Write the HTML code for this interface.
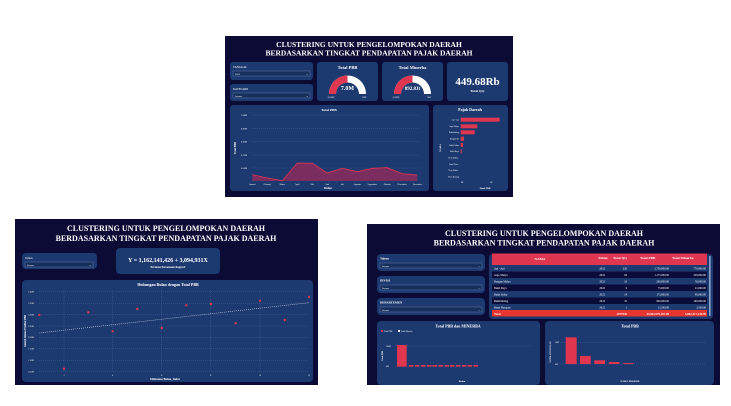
<!DOCTYPE html>
<html><head><meta charset="utf-8"><style>
html,body{margin:0;padding:0;background:#fff;width:731px;height:406px;overflow:hidden}
svg{display:block}
text{font-family:"Liberation Serif",serif;fill:#fff}
</style></head><body>
<svg width="731" height="406" viewBox="0 0 731 406" xmlns="http://www.w3.org/2000/svg">
<!-- PANEL 1 -->
<rect x="225" y="36" width="288" height="161" fill="#0b0b35"/>
<text x="369" y="47" font-size="7.5" font-weight="bold" text-anchor="middle">CLUSTERING UNTUK PENGELOMPOKAN DAERAH</text>
<text x="369" y="55.5" font-size="7.5" font-weight="bold" text-anchor="middle">BERDASARKAN TINGKAT PENDAPATAN PAJAK DAERAH</text>
<rect x="230" y="62" width="83" height="18" rx="3" fill="#1d3a70"/>
<text x="233" y="68" font-size="3">TANGGAL</text>
<rect x="233" y="71" width="77" height="5" fill="#16305e" stroke="#6d86b8" stroke-width="0.4"/>
<text x="235" y="75" font-size="2.5">2022</text><text x="306" y="75" font-size="3">⌄</text>
<rect x="230" y="84" width="83" height="17" rx="3" fill="#1d3a70"/>
<text x="233" y="90" font-size="3">KATEGORI</text>
<rect x="233" y="93" width="77" height="5" fill="#16305e" stroke="#6d86b8" stroke-width="0.4"/>
<text x="235" y="97" font-size="2.5">Semua</text><text x="306" y="97" font-size="3">⌄</text>
<rect x="317" y="62" width="61" height="39" rx="3" fill="#1d3a70"/>
<text x="347.5" y="69" font-size="4.5" font-weight="bold" text-anchor="middle">Total PBB</text>
<path d="M329,94 A18.5,18.5 0 0 1 366,94 L359,94 A11.5,11.5 0 0 0 336,94 Z" fill="#ffffff"/>
<path d="M329,94 A18.5,18.5 0 0 1 347.5,75.5 L347.5,82.5 A11.5,11.5 0 0 0 336,94 Z" fill="#e0364f"/>
<text x="347.5" y="90" font-size="6" font-weight="bold" text-anchor="middle">7.0M</text>
<text x="331" y="98" font-size="2.5" text-anchor="middle">0.00M</text><text x="364" y="98" font-size="2.5" text-anchor="middle">15M</text>
<rect x="382" y="62" width="61" height="39" rx="3" fill="#1d3a70"/>
<text x="412.5" y="69" font-size="4.5" font-weight="bold" text-anchor="middle">Total Minerba</text>
<path d="M394,94 A18.5,18.5 0 0 1 431,94 L424,94 A11.5,11.5 0 0 0 401,94 Z" fill="#ffffff"/>
<path d="M394,94 A18.5,18.5 0 0 1 412.5,75.5 L412.5,82.5 A11.5,11.5 0 0 0 401,94 Z" fill="#e0364f"/>
<text x="412.5" y="90" font-size="5" font-weight="bold" text-anchor="middle">892.8Jt</text>
<text x="396" y="98" font-size="2.5" text-anchor="middle">0.00M</text><text x="429" y="98" font-size="2.5" text-anchor="middle">2M</text>
<rect x="447" y="62" width="61" height="39" rx="3" fill="#1d3a70"/>
<text x="477.5" y="85" font-size="11" font-weight="bold" text-anchor="middle">449.68Rb</text>
<text x="477.5" y="92" font-size="3.5" font-weight="bold" text-anchor="middle">Total Qty</text>
<rect x="230" y="105" width="199" height="86" rx="3" fill="#1d3a70"/>
<text x="329" y="111" font-size="3.5" font-weight="bold" text-anchor="middle">Total PBB</text>
<g stroke="#5d7ab0" stroke-width="0.3" stroke-dasharray="1,1"><line x1="251" y1="115" x2="421" y2="115"/><line x1="251" y1="128.5" x2="421" y2="128.5"/><line x1="251" y1="141.6" x2="421" y2="141.6"/><line x1="251" y1="155" x2="421" y2="155"/><line x1="251" y1="168" x2="421" y2="168"/></g>
<g font-size="2.3"><text x="241" y="116">1.00M</text><text x="241" y="129.5">0.95M</text><text x="241" y="142.6">0.85M</text><text x="241" y="156">0.75M</text><text x="241" y="169">0.65M</text></g>
<text x="236" y="148" font-size="2.8" font-weight="bold" transform="rotate(-90 236 148)" text-anchor="middle">Total PBB</text>
<polygon points="252.3,181 252.3,174.7 267.3,178 282.3,180.7 297.3,163 312.3,163.3 327.3,173 342.3,168.3 357.3,171.7 372.3,168.3 387.3,167.7 402.3,173.7 417.3,175 417.3,181" fill="#7a2d5e"/>
<polyline points="252.3,174.7 267.3,178 282.3,180.7 297.3,163 312.3,163.3 327.3,173 342.3,168.3 357.3,171.7 372.3,168.3 387.3,167.7 402.3,173.7 417.3,175" fill="none" stroke="#e0364f" stroke-width="0.8"/>
<g font-size="2.2" text-anchor="middle"><text x="252.3" y="185">Januari</text><text x="267.3" y="185">Februari</text><text x="282.3" y="185">Maret</text><text x="297.3" y="185">April</text><text x="312.3" y="185">Mei</text><text x="327.3" y="185">Juni</text><text x="342.3" y="185">Juli</text><text x="357.3" y="185">Agustus</text><text x="372.3" y="185">September</text><text x="387.3" y="185">Oktober</text><text x="402.3" y="185">November</text><text x="417.3" y="185">Desember</text></g>
<text x="328" y="189" font-size="3" font-weight="bold" text-anchor="middle">Bulan</text>
<rect x="433" y="105" width="75" height="86" rx="3" fill="#1d3a70"/>
<text x="470" y="111" font-size="4" font-weight="bold" text-anchor="middle">Pajak Daerah</text>
<g fill="#e0364f"><rect x="460.7" y="117.7" width="39" height="4"/><rect x="460.7" y="124.3" width="16.6" height="4"/><rect x="460.7" y="130.3" width="14" height="4"/><rect x="460.7" y="136.7" width="3.3" height="4"/><rect x="460.7" y="143" width="2.3" height="4"/><rect x="460.7" y="149.3" width="1" height="4"/></g>
<g font-size="2" text-anchor="end"><text x="459" y="120.5">Api - Api</text><text x="459" y="127">Argo Mulyo</text><text x="459" y="133">Bukitmining</text><text x="459" y="139.5">Bangun M.</text><text x="459" y="146">Bukit Sultar</text><text x="459" y="152">Bukit Raya</text><text x="459" y="158.5">Desa Bukit...</text><text x="459" y="165">Bumi Tara...</text><text x="459" y="171">Desa Bukit...</text><text x="459" y="177.5">Desa Benung</text></g>
<text x="441" y="148" font-size="2.5" font-weight="bold" transform="rotate(-90 441 148)" text-anchor="middle">NAMA</text>
<text x="461" y="183" font-size="2">0K</text><text x="490" y="183" font-size="2">5K</text>
<text x="485" y="189" font-size="2.5" font-weight="bold" text-anchor="middle">Total PBB</text>
<!-- PANEL 2 -->
<rect x="15" y="219" width="303" height="166" fill="#0b0b35"/>
<text x="166" y="231" font-size="8" font-weight="bold" text-anchor="middle">CLUSTERING UNTUK PENGELOMPOKAN DAERAH</text>
<text x="166" y="241" font-size="8" font-weight="bold" text-anchor="middle">BERDASARKAN TINGKAT PENDAPATAN PAJAK DAERAH</text>
<rect x="22" y="253" width="75" height="16" rx="4" fill="#1d3a70"/>
<text x="25" y="259" font-size="3">Tahun</text>
<rect x="25" y="262" width="68" height="5" fill="#16305e" stroke="#6d86b8" stroke-width="0.4"/>
<text x="27" y="266" font-size="2.5">Semua</text><text x="89" y="266" font-size="3">⌄</text>
<rect x="116" y="248" width="104" height="26" rx="4" fill="#1d3a70"/>
<text x="168" y="262" font-size="6" font-weight="bold" text-anchor="middle">Y = 1,162,141,426 + 3,094,931X</text>
<text x="168" y="268" font-size="2.8" font-weight="bold" text-anchor="middle">Pertama Persamaan Regresi!</text>
<rect x="22" y="280" width="291" height="102" rx="4" fill="#1d3a70"/>
<text x="168" y="286" font-size="4" font-weight="bold" text-anchor="middle">Hubungan Bulan dengan Total PBB</text>
<g stroke="#5d7ab0" stroke-width="0.3" stroke-dasharray="1,1"><line x1="39" y1="291.7" x2="309" y2="291.7"/><line x1="39" y1="303.3" x2="309" y2="303.3"/><line x1="39" y1="314.7" x2="309" y2="314.7"/><line x1="39" y1="326" x2="309" y2="326"/><line x1="39" y1="337.3" x2="309" y2="337.3"/><line x1="39" y1="348.7" x2="309" y2="348.7"/><line x1="39" y1="360.3" x2="309" y2="360.3"/><line x1="39" y1="371.7" x2="309" y2="371.7"/><line x1="64" y1="290" x2="64" y2="372"/><line x1="112.7" y1="290" x2="112.7" y2="372"/><line x1="161.7" y1="290" x2="161.7" y2="372"/><line x1="210.7" y1="290" x2="210.7" y2="372"/><line x1="260" y1="290" x2="260" y2="372"/></g>
<g font-size="2.2"><text x="28" y="292.5">1.40M</text><text x="28" y="304">1.35M</text><text x="28" y="315.5">1.30M</text><text x="28" y="327">1.25M</text><text x="28" y="338">1.20M</text><text x="28" y="349.5">1.15M</text><text x="28" y="361">1.10M</text><text x="28" y="372.5">1.05M</text></g>
<g font-size="2.2" text-anchor="middle"><text x="64" y="376">2</text><text x="112.7" y="376">4</text><text x="161.7" y="376">6</text><text x="210.7" y="376">8</text><text x="260" y="376">10</text><text x="309" y="376">12</text></g>
<text x="26" y="331" font-size="2.6" font-weight="bold" transform="rotate(-90 26 331)" text-anchor="middle">Jumlah nilaian Prediksi PBB</text>
<line x1="39.3" y1="333" x2="309" y2="302.7" stroke="#c8d2e8" stroke-width="0.6" stroke-dasharray="1,1"/>
<g fill="#e0364f"><circle cx="39.3" cy="315" r="1.2"/><circle cx="64" cy="368.7" r="1.2"/><circle cx="88.3" cy="312.3" r="1.2"/><circle cx="112.7" cy="331.3" r="1.2"/><circle cx="137.3" cy="309" r="1.2"/><circle cx="161.7" cy="328" r="1.2"/><circle cx="186.3" cy="305.3" r="1.2"/><circle cx="211" cy="304" r="1.2"/><circle cx="235.7" cy="323.3" r="1.2"/><circle cx="260" cy="300.7" r="1.2"/><circle cx="284.7" cy="320" r="1.2"/><circle cx="309" cy="297" r="1.2"/></g>
<text x="165" y="380" font-size="3" font-weight="bold" text-anchor="middle">Minimum Bulan_Index</text>
<!-- PANEL 3 -->
<rect x="367" y="224" width="353" height="161" fill="#0b0b35"/>
<text x="544" y="236" font-size="8" font-weight="bold" text-anchor="middle">CLUSTERING UNTUK PENGELOMPOKAN DAERAH</text>
<text x="544" y="245.5" font-size="8" font-weight="bold" text-anchor="middle">BERDASARKAN TINGKAT PENDAPATAN PAJAK DAERAH</text>
<g fill="#1d3a70"><rect x="377" y="254" width="108" height="17" rx="4"/><rect x="377" y="276" width="108" height="17" rx="4"/><rect x="377" y="298" width="108" height="17" rx="4"/></g>
<g fill="#16305e" stroke="#6d86b8" stroke-width="0.4"><rect x="380" y="263" width="102" height="5"/><rect x="380" y="285" width="102" height="5"/><rect x="380" y="307" width="102" height="5"/></g>
<g font-size="2.5"><text x="382" y="267">Semua</text><text x="382" y="289">Semua</text><text x="382" y="311">Semua</text><text x="478" y="267">⌄</text><text x="478" y="289">⌄</text><text x="478" y="311">⌄</text></g>
<text x="380" y="259.5" font-size="3.2" font-weight="bold">Tahun</text>
<text x="380" y="281.5" font-size="3.2" font-weight="bold">DIVISI</text>
<text x="380" y="303.5" font-size="3.2" font-weight="bold">DEPARTEMEN</text>
<rect x="489" y="254" width="224" height="65" rx="4" fill="#1d3a70"/>
<rect x="492" y="253.5" width="215" height="11.5" fill="#e0364f"/>
<g font-size="3.5" font-weight="bold"><text x="540" y="260" text-anchor="middle">NAMA</text><text x="598" y="259">Tahun</text><text x="613" y="259">Total Qty</text><text x="640" y="259">Total PBB</text><text x="672" y="259">Total Minerba</text></g>
<g fill="#0c0c3a"><rect x="492" y="271.5" width="215" height="6.5"/><rect x="492" y="284.5" width="215" height="6.5"/><rect x="492" y="297.5" width="215" height="6.5"/></g>
<g font-size="2.8"><text x="494" y="269.5">Api - Api</text><text x="494" y="276">Argo Mulyo</text><text x="494" y="282.5">Bangun Mulyo</text><text x="494" y="289">Bukit Raya</text><text x="494" y="295.5">Bukit Sultar</text><text x="494" y="302">Bukitmining</text><text x="494" y="308.5">Bumi Harapan</text></g>
<g font-size="2.8" text-anchor="end"><text x="605" y="269.5">2022</text><text x="605" y="276">2022</text><text x="605" y="282.5">2022</text><text x="605" y="289">2022</text><text x="605" y="295.5">2022</text><text x="605" y="302">2022</text><text x="605" y="308.5">2022</text>
<text x="627" y="269.5">220</text><text x="627" y="276">94</text><text x="627" y="282.5">19</text><text x="627" y="289">6</text><text x="627" y="295.5">14</text><text x="627" y="302">32</text><text x="627" y="308.5">1</text>
<text x="669" y="269.5">2,750,000.00</text><text x="669" y="276">1,175,000.00</text><text x="669" y="282.5">260,000.00</text><text x="669" y="289">75,000.00</text><text x="669" y="295.5">175,000.00</text><text x="669" y="302">900,000.00</text><text x="669" y="308.5">11,500.00</text>
<text x="706" y="269.5">770,000.00</text><text x="706" y="276">329,000.00</text><text x="706" y="282.5">76,000.00</text><text x="706" y="289">21,000.00</text><text x="706" y="295.5">49,000.00</text><text x="706" y="302">160,000.00</text><text x="706" y="308.5">3,500.00</text></g>
<rect x="492" y="310" width="215" height="6.5" fill="#e8352f"/>
<g font-size="3" font-weight="bold"><text x="494" y="315">Total</text><text x="627" y="315" text-anchor="end">2077940</text><text x="669" y="315" text-anchor="end">43,981,979,207.00</text><text x="706" y="315" text-anchor="end">5,862,317,149.99</text></g>
<rect x="709" y="256" width="1.6" height="60" fill="#8ea3cc"/>
<rect x="377" y="321" width="163" height="64" rx="4" fill="#1d3a70"/>
<text x="458" y="327.5" font-size="4" font-weight="bold" text-anchor="middle">Total PBB dan MINERBA</text>
<rect x="381" y="330" width="2" height="2" fill="#e0364f"/><rect x="398" y="330" width="2" height="2" fill="#fff"/>
<text x="384" y="332" font-size="2">Total PBB</text><text x="401" y="332" font-size="2">Total Minerba</text>
<line x1="393" y1="346" x2="533" y2="346" stroke="#5d7ab0" stroke-width="0.3" stroke-dasharray="1,1"/>
<text x="386" y="347" font-size="2">200M</text><text x="386" y="367" font-size="2">0M</text>
<text x="383" y="356" font-size="2.3" font-weight="bold" transform="rotate(-90 383 356)" text-anchor="middle">Total PBB</text>
<rect x="397" y="345" width="9.7" height="21.7" fill="#e0364f"/>
<g fill="#e0364f"><rect x="409" y="365" width="4.5" height="1.7"/><rect x="415" y="365" width="4.5" height="1.7"/><rect x="421" y="365" width="4.5" height="1.7"/><rect x="427" y="365" width="4.5" height="1.7"/><rect x="432.5" y="365" width="4.5" height="1.7"/><rect x="438.5" y="365" width="4.5" height="1.7"/><rect x="444.5" y="365" width="4.5" height="1.7"/><rect x="450" y="365" width="4.5" height="1.7"/><rect x="456" y="365" width="4.5" height="1.7"/><rect x="462" y="365" width="4.5" height="1.7"/><rect x="467.5" y="365" width="4.5" height="1.7"/><rect x="473.5" y="365" width="4.5" height="1.7"/></g>
<text x="462" y="382" font-size="2.5" font-weight="bold" text-anchor="middle">Bulan</text>
<rect x="545" y="321" width="169" height="64" rx="4" fill="#1d3a70"/>
<text x="630" y="327.5" font-size="4" font-weight="bold" text-anchor="middle">Total PBB</text>
<line x1="560" y1="342.3" x2="705" y2="342.3" stroke="#5d7ab0" stroke-width="0.3" stroke-dasharray="1,1"/>
<line x1="560" y1="364" x2="705" y2="364" stroke="#5d7ab0" stroke-width="0.3" stroke-dasharray="1,1"/>
<text x="555" y="343" font-size="2">10M</text><text x="555" y="365" font-size="2">0M</text>
<text x="551" y="352" font-size="2.2" font-weight="bold" transform="rotate(-90 551 352)" text-anchor="middle">TOTAL PENJUALAN</text>
<g fill="#e0364f"><rect x="565.7" y="337.3" width="11" height="26.7"/><rect x="580" y="356" width="10.7" height="8"/><rect x="594.3" y="360.3" width="10.7" height="3.7"/><rect x="608.7" y="362" width="10.6" height="2"/><rect x="623.3" y="363" width="10" height="1"/></g>
<text x="630" y="382" font-size="2.5" font-weight="bold" text-anchor="middle">NAMA PRODUK</text>
</svg>
</body></html>
